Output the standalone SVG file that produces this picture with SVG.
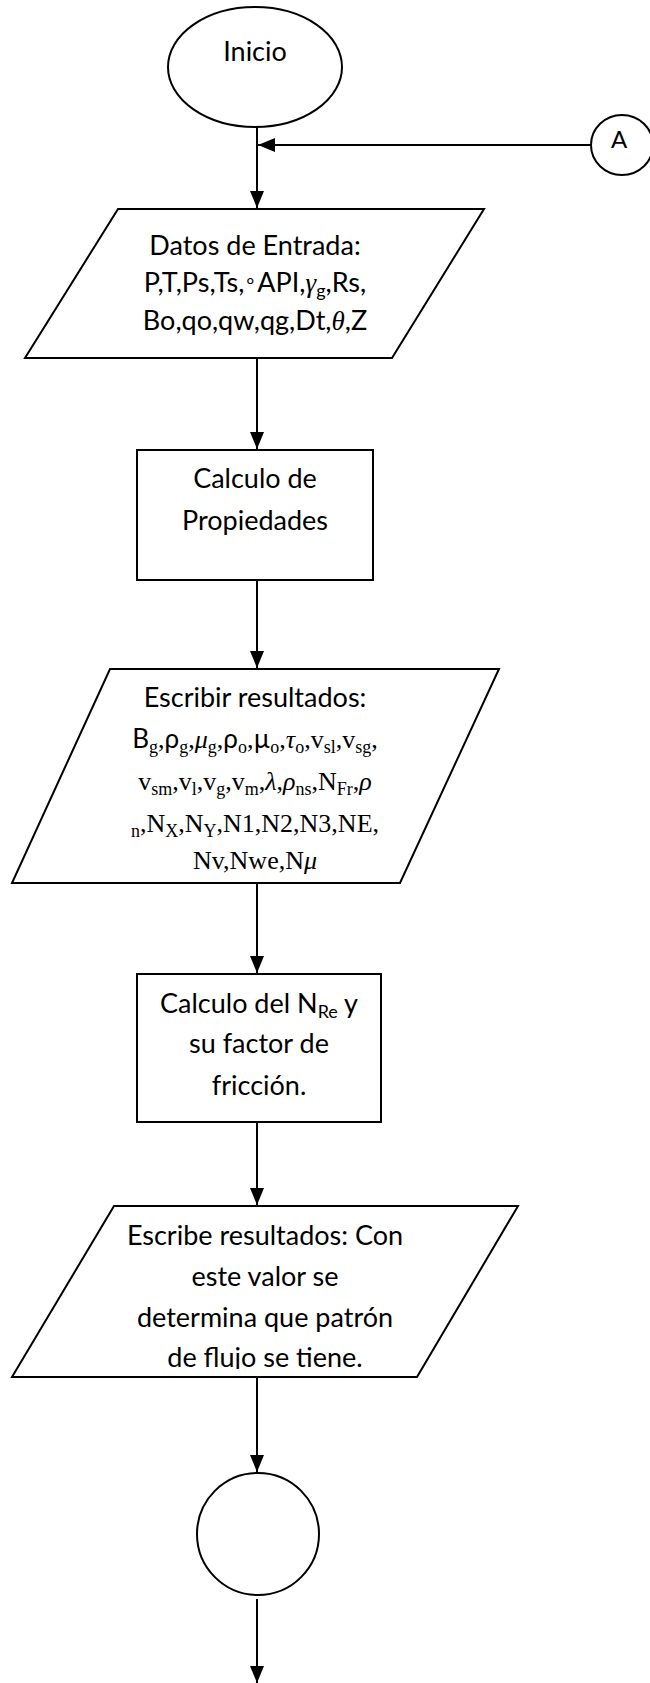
<svg xmlns="http://www.w3.org/2000/svg" width="650" height="1683" viewBox="0 0 650 1683">
<style>
.sh{fill:#fff;stroke:#000;stroke-width:2}
.cn{fill:none;stroke:#000;stroke-width:2}
.t{font-family:Lato,"Liberation Sans",sans-serif;font-size:27px;fill:#000;text-anchor:middle}
.s{font-family:"Liberation Serif","DejaVu Serif",serif;font-size:26px;fill:#000;text-anchor:middle}
.sans{font-family:Lato,"Liberation Sans",sans-serif}
.it{font-style:italic;font-family:"Liberation Serif","DejaVu Serif",serif}
.sb{font-size:18px}
</style>
<defs>
<marker id="ah" markerUnits="userSpaceOnUse" markerWidth="18" markerHeight="14" refX="17" refY="7" orient="auto">
<path d="M0,0 L17,7 L0,14 z" fill="#000"/>
</marker>
<clipPath id="clipP3"><rect x="0" y="1190" width="650" height="179"/></clipPath>
</defs>

<g id="connectors">
<line class="cn" x1="257" y1="127" x2="257" y2="208" marker-end="url(#ah)"/>
<line class="cn" x1="591" y1="145" x2="258" y2="145" marker-end="url(#ah)"/>
<line class="cn" x1="257" y1="358" x2="257" y2="449" marker-end="url(#ah)"/>
<line class="cn" x1="257" y1="580" x2="257" y2="668" marker-end="url(#ah)"/>
<line class="cn" x1="257" y1="883" x2="257" y2="973" marker-end="url(#ah)"/>
<line class="cn" x1="257" y1="1122" x2="257" y2="1205" marker-end="url(#ah)"/>
<line class="cn" x1="257" y1="1377" x2="257" y2="1472" marker-end="url(#ah)"/>
<line class="cn" x1="257" y1="1599" x2="257" y2="1683" marker-end="url(#ah)"/>
</g>

<g id="inicio">
<ellipse class="sh" cx="255" cy="67" rx="87" ry="60"/>
<text class="t" x="255" y="61">Inicio</text>
</g>

<g id="conector-a">
<ellipse class="sh" cx="622" cy="145" rx="31" ry="30"/>
<text class="t" x="619" y="148" style="font-size:24px">A</text>
</g>

<g id="datos-entrada">
<polygon class="sh" points="118,209 484,209 392,358 25,358"/>
<text class="t" x="255" y="255">Datos de Entrada:</text>
<text class="t" x="255" y="292">P,T,Ps,Ts,<tspan style="font-size:20px" dy="-4">∘</tspan><tspan dy="4">API,</tspan><tspan class="it">γ</tspan><tspan class="sb" dy="5">g</tspan><tspan dy="-5">,Rs,</tspan></text>
<text class="t" x="255" y="330">Bo,qo,qw,qg,Dt,<tspan class="it">θ</tspan>,Z</text>
</g>

<g id="calculo-propiedades">
<rect class="sh" x="137" y="450" width="236" height="130"/>
<text class="t" x="255" y="488">Calculo de</text>
<text class="t" x="255" y="530">Propiedades</text>
</g>

<g id="escribir-resultados">
<polygon class="sh" points="110,669 499,669 400,883 12,883"/>
<text class="t" x="255" y="707">Escribir resultados:</text>
<text class="s" x="255" y="748"><tspan class="sans">B</tspan><tspan class="sb" dy="5">g</tspan><tspan dy="-5">,</tspan><tspan class="sans">ρ</tspan><tspan class="sb" dy="5">g</tspan><tspan dy="-5">,</tspan><tspan class="it">μ</tspan><tspan class="sb" dy="5">g</tspan><tspan dy="-5">,</tspan><tspan class="sans">ρ</tspan><tspan class="sb" dy="5">o</tspan><tspan dy="-5">,</tspan><tspan class="sans">µ</tspan><tspan class="sb" dy="5">o</tspan><tspan dy="-5">,</tspan><tspan class="it">τ</tspan><tspan class="sb" dy="5">o</tspan><tspan dy="-5">,v</tspan><tspan class="sb" dy="5">sl</tspan><tspan dy="-5">,v</tspan><tspan class="sb" dy="5">sg</tspan><tspan dy="-5">,</tspan></text>
<text class="s" x="255" y="790">v<tspan class="sb" dy="5">sm</tspan><tspan dy="-5">,v</tspan><tspan class="sb" dy="5">l</tspan><tspan dy="-5">,v</tspan><tspan class="sb" dy="5">g</tspan><tspan dy="-5">,v</tspan><tspan class="sb" dy="5">m</tspan><tspan dy="-5">,</tspan><tspan class="it">λ</tspan>,<tspan class="it">ρ</tspan><tspan class="sb" dy="5">ns</tspan><tspan dy="-5">,N</tspan><tspan class="sb" dy="5">Fr</tspan><tspan dy="-5">,</tspan><tspan class="it">ρ</tspan></text>
<text class="s" x="255" y="832"><tspan class="sb" dy="5">n</tspan><tspan dy="-5">,N</tspan><tspan class="sb" dy="5">X</tspan><tspan dy="-5">,N</tspan><tspan class="sb" dy="5">Y</tspan><tspan dy="-5">,N1,N2,N3,NE,</tspan></text>
<text class="s" x="255" y="869">Nv,Nwe,N<tspan class="it">μ</tspan></text>
</g>

<g id="calculo-nre">
<rect class="sh" x="137" y="974" width="244" height="148"/>
<text class="t" x="259" y="1013">Calculo del N<tspan class="sb" dy="5">Re</tspan><tspan dy="-5"> y</tspan></text>
<text class="t" x="259" y="1053">su factor de</text>
<text class="t" x="259" y="1095">fricción.</text>
</g>

<g id="escribe-resultados">
<polygon class="sh" points="114,1206 518,1206 417,1377 12,1377"/>
<g clip-path="url(#clipP3)">
<text class="t" x="265" y="1245">Escribe resultados: Con</text>
<text class="t" x="265" y="1286">este valor se</text>
<text class="t" x="265" y="1327">determina que patrón</text>
<text class="t" x="265" y="1367">de flujo se tiene.</text>
</g>
</g>

<g id="conector-fin">
<circle class="sh" cx="258" cy="1534" r="61"/>
</g>
</svg>
